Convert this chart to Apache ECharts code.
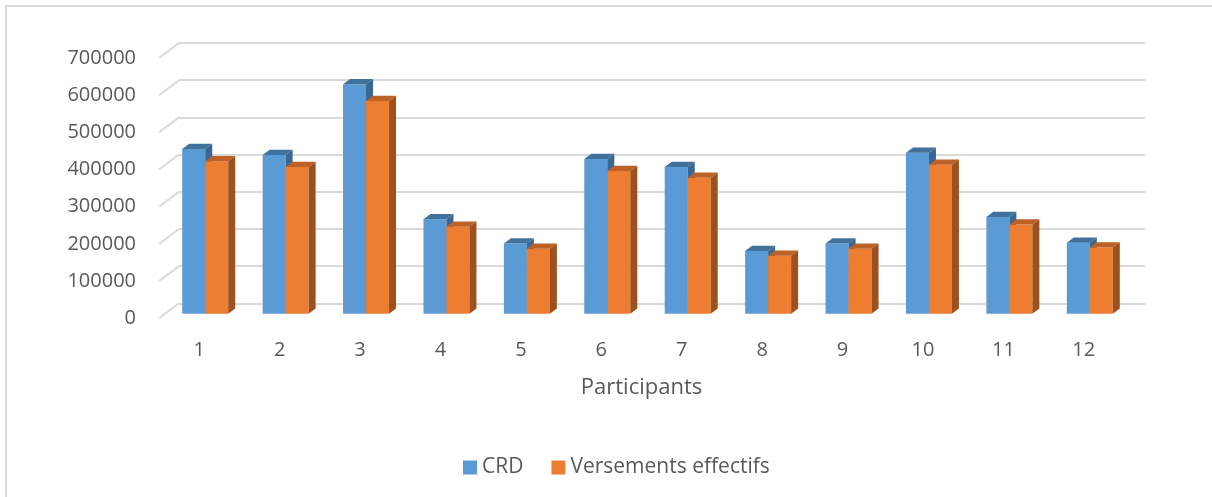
<!DOCTYPE html>
<html>
<head>
<meta charset="utf-8">
<script src="https://cdn.jsdelivr.net/npm/echarts@6/dist/echarts.min.js"></script>
<style>
  html, body { margin: 0; padding: 0; background: #fff; }
  #chart { width: 1212px; height: 497px; }
</style>
</head>
<body>
<div id="chart"></div>
<script>
// données du graphique
var participants = ['1', '2', '3', '4', '5', '6', '7', '8', '9', '10', '11', '12'];
var crd = [443000, 427000, 617000, 254000, 189000, 416000, 395000, 169000, 189000, 433000, 260000, 191000];
var versements = [410000, 395000, 572000, 234000, 175000, 384000, 366000, 156000, 175000, 401000, 240000, 178000];
var yTicks = [0, 100000, 200000, 300000, 400000, 500000, 600000, 700000];

// profondeur de la perspective (plan avant -> mur du fond)
var WALL_DX = 20, WALL_DY = 15;
// position des barres dans la profondeur
var BAR_DX = 6, BAR_DY = 4.5, BAR_DEPTH_X = 7, BAR_DEPTH_Y = 5.25;

var myChart = echarts.init(document.getElementById('chart'));

// barre 3D : face avant, dessus, côté
function barRenderer(idx, front, topColor, sideColor) {
    return function (params, api) {
        var i = api.value(0), v = api.value(1);
        var base = api.coord([i, 0]);
        var top = api.coord([i, v]);
        var bw = api.size([1, 0])[0];
        var w = bw * 0.286;
        var x0 = base[0] + BAR_DX + (idx - 1) * w;
        var yb = base[1] - BAR_DY;
        var yt = top[1] - BAR_DY;
        var dx = BAR_DEPTH_X, dy = BAR_DEPTH_Y;
        return {
            type: 'group',
            children: [{
                type: 'rect',
                shape: { x: x0, y: yt, width: w, height: yb - yt },
                style: { fill: front }
            }, {
                type: 'polygon',
                shape: { points: [[x0, yt], [x0 + w, yt], [x0 + w + dx, yt - dy], [x0 + dx, yt - dy]] },
                style: { fill: topColor }
            }, {
                type: 'polygon',
                shape: { points: [[x0 + w, yt], [x0 + w + dx, yt - dy], [x0 + w + dx, yb - dy], [x0 + w, yb]] },
                style: { fill: sideColor }
            }]
        };
    };
}

var option = {
    backgroundColor: '#fff',
    animation: false,
    textStyle: { fontFamily: 'Open Sans' },
    graphic: [{
        type: 'rect',
        shape: { x: 6, y: 6, width: 1230, height: 520 },
        style: { fill: null, stroke: '#D9D9D9', lineWidth: 2 },
        silent: true
    }],
    legend: {
        data: ['CRD', 'Versements effectifs'],
        left: 458,
        top: 452,
        icon: 'rect',
        itemWidth: 14,
        itemHeight: 14,
        itemGap: 28,
        textStyle: { fontSize: 21, color: '#595959', fontFamily: 'Open Sans' }
    },
    grid: [
        // plan avant (étiquettes)
        { left: 159, right: 88, top: 58, bottom: 178.7 },
        // mur du fond (quadrillage)
        { left: 179, right: 67, top: 43, bottom: 193.7 }
    ],
    xAxis: [{
        gridIndex: 0,
        type: 'category',
        data: participants,
        axisLine: { show: false },
        axisTick: { show: false },
        axisLabel: { fontSize: 20, color: '#595959', margin: 22 },
        name: 'Participants',
        nameLocation: 'middle',
        nameGap: 58,
        nameTextStyle: { fontSize: 22, color: '#595959' }
    }, {
        gridIndex: 1,
        type: 'category',
        data: participants,
        show: false
    }],
    yAxis: [{
        gridIndex: 0,
        type: 'value',
        min: 0,
        max: 700000,
        interval: 100000,
        axisLine: { show: false },
        axisTick: { show: false },
        splitLine: { show: false },
        axisLabel: {
            fontSize: 20,
            color: '#595959',
            margin: 23,
            formatter: function (v) { return String(v); }
        }
    }, {
        gridIndex: 1,
        type: 'value',
        min: 0,
        max: 700000,
        interval: 100000,
        axisLine: { show: false },
        axisTick: { show: false },
        axisLabel: { show: false },
        splitLine: { show: true, lineStyle: { color: '#D9D9D9', width: 2 } }
    }],
    series: [{
        // diagonales du plan latéral
        name: 'wall',
        type: 'custom',
        xAxisIndex: 0,
        yAxisIndex: 0,
        silent: true,
        data: yTicks.map(function (t) { return [0, t]; }),
        renderItem: function (params, api) {
            var p = api.coord([0, api.value(1)]);
            var x = params.coordSys.x;
            return {
                type: 'line',
                shape: { x1: x, y1: p[1], x2: x + WALL_DX, y2: p[1] - WALL_DY },
                style: { stroke: '#D9D9D9', lineWidth: 2 }
            };
        }
    }, {
        name: 'CRD',
        type: 'custom',
        xAxisIndex: 0,
        yAxisIndex: 0,
        itemStyle: { color: '#5B9BD5' },
        data: crd.map(function (v, i) { return [i, v]; }),
        renderItem: barRenderer(0, '#5B9BD5', '#41719C', '#3A6791')
    }, {
        name: 'Versements effectifs',
        type: 'custom',
        xAxisIndex: 0,
        yAxisIndex: 0,
        itemStyle: { color: '#ED7D31' },
        data: versements.map(function (v, i) { return [i, v]; }),
        renderItem: barRenderer(1, '#ED7D31', '#BE6127', '#9C511F')
    }]
};

myChart.setOption(option);
</script>
</body>
</html>
